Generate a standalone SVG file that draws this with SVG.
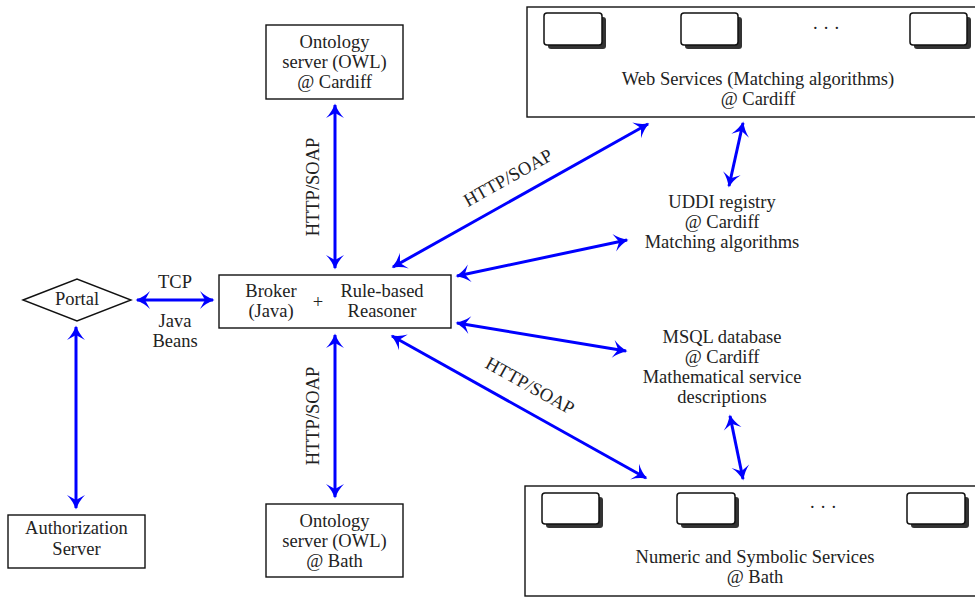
<svg xmlns="http://www.w3.org/2000/svg" width="975" height="598" viewBox="0 0 975 598">
<style>
text{font-family:'Liberation Serif','DejaVu Serif',serif;font-size:18.5px;fill:#222;text-anchor:middle}
.box{fill:#fff;stroke:#111;stroke-width:1.4}
.sb{fill:#fff;stroke:#111;stroke-width:1.5}
.sh{fill:#333}
.ar{stroke:#0000ff;stroke-width:3;fill:none;marker-start:url(#ah);marker-end:url(#ah)}
</style>
<defs>
<marker id="ah" markerUnits="userSpaceOnUse" markerWidth="24" markerHeight="24" viewBox="-16 -12 20 24" refX="0" refY="0" orient="auto-start-reverse">
<path d="M1.5,0 Q-7,-3 -13,-9 L-8,0 L-13,9 Q-7,3 1.5,0 Z" fill="#0000ff"/>
</marker>
</defs>
<g font-family="Liberation Serif, DejaVu Serif, serif">
<g id="onto-cardiff">
<rect class="box" x="266" y="25" width="137" height="74"/>
<text x="334.5" y="48">Ontology</text>
<text x="334.5" y="68">server (OWL)</text>
<text x="334.5" y="88">@ Cardiff</text>
</g>
<g id="onto-bath">
<rect class="box" x="266" y="504" width="137" height="73"/>
<text x="334.5" y="527">Ontology</text>
<text x="334.5" y="547">server (OWL)</text>
<text x="334.5" y="567">@ Bath</text>
</g>
<g id="broker">
<rect class="box" x="219" y="275" width="232" height="53"/>
<text x="271" y="297">Broker</text>
<text x="271" y="317">(Java)</text>
<text x="318" y="308">+</text>
<text x="382" y="297">Rule-based</text>
<text x="382" y="317">Reasoner</text>
</g>
<g id="portal">
<polygon class="box" points="23,300 77,279 131,300 77,321"/>
<text x="77" y="305">Portal</text>
</g>
<g id="auth">
<rect class="box" x="8" y="515" width="137" height="53"/>
<text x="76.5" y="534">Authorization</text>
<text x="76.5" y="555">Server</text>
</g>
<g id="web-services">
<rect class="box" x="527" y="7" width="460" height="110"/>
<rect class="sh" x="548" y="17" width="58" height="32" rx="3"/>
<rect class="sb" x="544" y="13" width="58" height="32" rx="3"/>
<rect class="sh" x="685" y="17" width="57" height="32" rx="3"/>
<rect class="sb" x="681" y="13" width="57" height="32" rx="3"/>
<rect class="sh" x="914" y="17" width="57" height="32" rx="3"/>
<rect class="sb" x="910" y="13" width="57" height="32" rx="3"/>
<text x="826" y="34">· · ·</text>
<text x="758" y="85">Web Services (Matching algorithms)</text>
<text x="758" y="105">@ Cardiff</text>
</g>
<g id="numeric">
<rect class="box" x="525" y="486" width="460" height="110"/>
<rect class="sh" x="546" y="497" width="57" height="31" rx="3"/>
<rect class="sb" x="542" y="493" width="57" height="31" rx="3"/>
<rect class="sh" x="681" y="497" width="58" height="31" rx="3"/>
<rect class="sb" x="677" y="493" width="58" height="31" rx="3"/>
<rect class="sh" x="911" y="497" width="58" height="31" rx="3"/>
<rect class="sb" x="907" y="493" width="58" height="31" rx="3"/>
<text x="823" y="513">· · ·</text>
<text x="755" y="563">Numeric and Symbolic Services</text>
<text x="755" y="583">@ Bath</text>
</g>
<g id="uddi">
<text x="722" y="208">UDDI registry</text>
<text x="722" y="228">@ Cardiff</text>
<text x="722" y="248">Matching algorithms</text>
</g>
<g id="msql">
<text x="722" y="343">MSQL database</text>
<text x="722" y="363">@ Cardiff</text>
<text x="722" y="383">Mathematical service</text>
<text x="722" y="403">descriptions</text>
</g>
<g id="connectors">
<line class="ar" x1="137" y1="300" x2="213" y2="300"/>
<line class="ar" x1="76" y1="327" x2="76" y2="508"/>
<line class="ar" x1="335" y1="105" x2="335" y2="268"/>
<line class="ar" x1="335" y1="335" x2="335" y2="497"/>
<line class="ar" x1="393" y1="267" x2="648" y2="124"/>
<line class="ar" x1="457" y1="276" x2="627" y2="240"/>
<line class="ar" x1="457" y1="323" x2="626" y2="351"/>
<line class="ar" x1="392" y1="336" x2="646" y2="478"/>
<line class="ar" x1="729" y1="186" x2="743" y2="123"/>
<line class="ar" x1="730" y1="416" x2="743" y2="479"/>
<text x="175" y="288">TCP</text>
<text x="175" y="327">Java</text>
<text x="175" y="347">Beans</text>
<text transform="translate(319,187) rotate(-90)">HTTP/SOAP</text>
<text transform="translate(319,416) rotate(-90)">HTTP/SOAP</text>
<text transform="translate(511,183) rotate(-29.3)">HTTP/SOAP</text>
<text transform="translate(527,391) rotate(29.2)">HTTP/SOAP</text>
</g>
</g>
</svg>
